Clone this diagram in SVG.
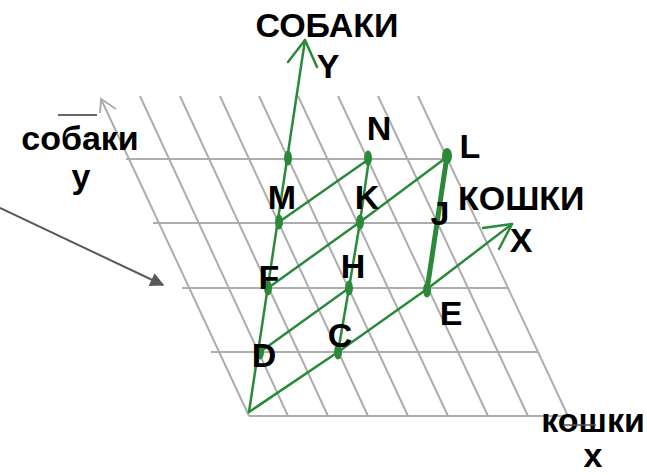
<svg xmlns="http://www.w3.org/2000/svg" width="647" height="475" viewBox="0 0 647 475">
<defs>
<style>
.grid{stroke:#adadad;stroke-width:2;fill:none}
.g{stroke:#2a8a39;stroke-width:2.5;fill:none;stroke-linecap:round;stroke-linejoin:round}
.thick{stroke:#2a8a39;stroke-width:5;fill:none;stroke-linecap:round}
.dot{fill:#2a8a39}
.t{font-family:"Liberation Sans",Arial,sans-serif;font-weight:bold;font-size:34px;fill:#000}
</style>
<marker id="tri" viewBox="0 0 10 10" refX="9" refY="5" markerWidth="7.5" markerHeight="7" orient="auto" markerUnits="strokeWidth">
<path d="M0,0 L10,5 L0,10 Z" fill="#595959"/>
</marker>
</defs>
<rect width="647" height="475" fill="#fff"/>
<g id="grid" class="grid">
<line x1="126" y1="159" x2="450" y2="159"/>
<line x1="153" y1="223" x2="480" y2="223"/>
<line x1="182" y1="288" x2="509" y2="288"/>
<line x1="211" y1="352" x2="538" y2="352"/>
<line x1="249" y1="416" x2="568" y2="416"/>
<line x1="101" y1="99" x2="249" y2="416"/>
<line x1="140" y1="96" x2="288" y2="416"/>
<line x1="180" y1="96" x2="328" y2="416"/>
<line x1="220" y1="96" x2="368" y2="416"/>
<line x1="259" y1="96" x2="408" y2="416"/>
<line x1="298" y1="96" x2="448" y2="416"/>
<line x1="338" y1="96" x2="488" y2="416"/>
<line x1="378" y1="96" x2="528" y2="416"/>
<line x1="418" y1="96" x2="568" y2="416"/>
<polyline points="100,113 101,99 116,109"/>
</g>
<g id="connectors">
<line x1="0" y1="208" x2="163" y2="285" stroke="#595959" stroke-width="2" marker-end="url(#tri)"/>
<g class="g">
<polyline points="249,412 305,40"/>
<polyline points="288,62 305,40 317,67"/>
<polyline points="249,412 338,352 427,289 512,224"/>
<polyline points="483,228 512,224 499,249"/>
<polyline points="338,352 349,288 360,222 369,159"/>
<polyline points="260,352 349,288"/>
<polyline points="268,288 360,222 447,157"/>
<polyline points="279,222 369,159"/>
</g>
<line class="thick" x1="427" y1="290" x2="447" y2="156"/>
</g>
<g id="axis-y">
<text class="t" x="327" y="37" text-anchor="middle">СОБАКИ</text>
<text class="t" x="328" y="78" text-anchor="middle">Y</text>
</g>
<g id="axis-x">
<text class="t" x="458" y="210">КОШКИ</text>
<text class="t" x="521" y="252" text-anchor="middle">X</text>
</g>
<g id="label-y">
<line x1="58" y1="115" x2="97" y2="115" stroke="#333" stroke-width="1.5"/>
<text class="t" x="80" y="150" text-anchor="middle">собаки</text>
<text class="t" x="81" y="188" text-anchor="middle">у</text>
</g>
<g id="label-x">
<text class="t" x="593" y="432" text-anchor="middle">кошки</text>
<line x1="563" y1="425" x2="596" y2="425" stroke="#555" stroke-width="1.5"/>
<text class="t" x="593" y="467" text-anchor="middle">х</text>
</g>
<g id="node-P"><ellipse class="dot" cx="288" cy="158" rx="4" ry="7.5"/></g>
<g id="node-N"><ellipse class="dot" cx="368" cy="158" rx="4" ry="7.5"/><text class="t" x="379" y="140" text-anchor="middle">N</text></g>
<g id="node-L"><ellipse class="dot" cx="447" cy="156" rx="5" ry="8"/><text class="t" x="470" y="158" text-anchor="middle">L</text></g>
<g id="node-M"><ellipse class="dot" cx="279" cy="222" rx="4" ry="7.5"/><text class="t" x="282" y="209" text-anchor="middle">M</text></g>
<g id="node-K"><ellipse class="dot" cx="360" cy="222" rx="4" ry="7.5"/><text class="t" x="367" y="209" text-anchor="middle">K</text></g>
<g id="node-J"><text class="t" x="440" y="225" text-anchor="middle">J</text></g>
<g id="node-F"><ellipse class="dot" cx="268" cy="288" rx="4" ry="7.5"/><text class="t" x="269" y="289" text-anchor="middle">F</text></g>
<g id="node-H"><ellipse class="dot" cx="349" cy="288" rx="4" ry="7.5"/><text class="t" x="353" y="278" text-anchor="middle">H</text></g>
<g id="node-E"><ellipse class="dot" cx="427" cy="290" rx="4" ry="7.5"/><text class="t" x="451" y="325" text-anchor="middle">E</text></g>
<g id="node-D"><ellipse class="dot" cx="260" cy="352" rx="4" ry="7.5"/><text class="t" x="264" y="367" text-anchor="middle">D</text></g>
<g id="node-C"><ellipse class="dot" cx="338" cy="352" rx="4" ry="7.5"/><text class="t" x="340" y="347" text-anchor="middle">C</text></g>
</svg>
